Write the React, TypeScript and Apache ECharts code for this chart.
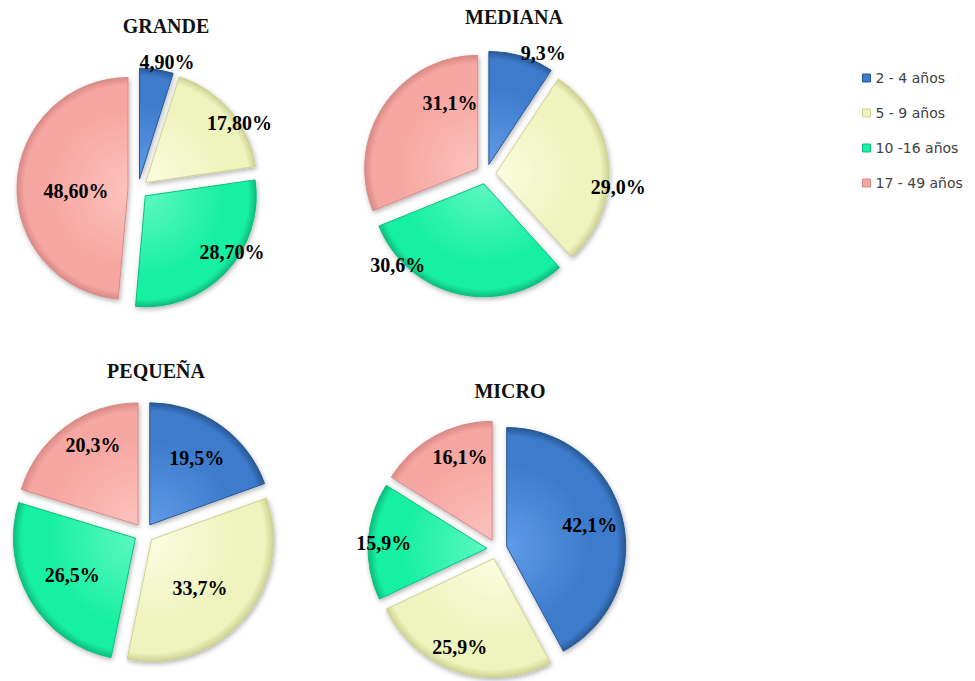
import React, { useEffect, useRef } from 'react';
import * as echarts from 'echarts';

// ---- data ----
const categories = ['2 - 4 años', '5 - 9 años', '10 -16 años', '17 - 49 años'];
const grandeValues = [4.9, 17.8, 28.7, 48.6];
const medianaValues = [9.3, 29.0, 30.6, 31.1];
const pequenaValues = [19.5, 33.7, 26.5, 20.3];
const microValues = [42.1, 25.9, 15.9, 16.1];
const pieTitles = ['GRANDE', 'MEDIANA', 'PEQUEÑA', 'MICRO'];
const pieDecimals = [2, 1, 1, 1];

// ---- layout / style ----
const pieValues = [grandeValues, medianaValues, pequenaValues, microValues];
const pieCenters = [[138, 189], [486, 174], [144, 533], [497, 549]];
const pieRadii = [111, 113, 122, 119];
const titlePos = [[166, 26], [514, 17], [156, 371], [510, 391]];
// [radius fraction, angle delta from slice mid-angle in degrees]
const labelPolar = [
  [[1.08, 4.4], [1.0, 8.1], [0.93, -10.5], [0.47, -5.4]],
  [[1.1, 9.2], [1.09, 10.8], [1.05, 33.5], [0.63, 33]],
  [[0.67, 0], [0.56, 4], [0.6, 0.6], [0.75, 7]],
  [[0.72, 0], [0.8, 2.8], [0.87, -0.4], [0.75, 7.9]],
];
const explode = 10;
const baseColors = ['#3d7bcc', '#eff3bd', '#19f0a3', '#f7a7a2'];
const lightColors = ['#5f9be6', '#fbfde0', '#5cf8c2', '#fcc2be'];
const edgeColors = ['#285894', '#cdd293', '#0cbd7f', '#d98a86'];

const fmt = (v: number, d: number) => v.toFixed(d).replace('.', ',') + '%';

export default function App() {
  const ref = useRef<HTMLDivElement>(null);
  useEffect(() => {
    if (!ref.current) return;
    const chart = echarts.init(ref.current, undefined, { renderer: 'svg' });
    const toRad = (deg: number) => (deg * Math.PI) / 180;

    const labelTexts: any[] = [];

    const series = pieValues.map((vals, k) => {
      const [cx, cy] = pieCenters[k];
      const R = pieRadii[k];
      const total = vals.reduce((a, b) => a + b, 0);
      let acc = 0;
      vals.forEach((v, i) => {
        const mid = ((acc + v / 2) / total) * 360;
        acc += v;
        const [f, da] = labelPolar[k][i];
        const ox = cx + explode * Math.sin(toRad(mid));
        const oy = cy - explode * Math.cos(toRad(mid));
        const a = toRad(mid + da);
        labelTexts.push({
          type: 'text',
          x: ox + f * R * Math.sin(a),
          y: oy - f * R * Math.cos(a),
          z: 100,
          style: {
            text: fmt(v, pieDecimals[k]),
            align: 'center',
            verticalAlign: 'middle',
            textAlign: 'center',
            textVerticalAlign: 'middle',
            fontFamily: 'Liberation Serif',
            fontWeight: 'bold',
            fontSize: 20,
            fill: '#000',
          },
        });
      });
      return {
        type: 'pie',
        name: pieTitles[k],
        center: [cx, cy],
        radius: R,
        startAngle: 90,
        clockwise: true,
        selectedMode: 'multiple',
        selectedOffset: explode,
        avoidLabelOverlap: false,
        emphasis: { disabled: true, scale: false },
        label: { show: false },
        labelLine: { show: false },
        data: vals.map((v, i) => {
          const style = {
            color: {
              type: 'radial',
              x: cx,
              y: cy,
              r: R,
              global: true,
              colorStops: [
                { offset: 0, color: lightColors[i] },
                { offset: 0.7, color: baseColors[i] },
                { offset: 0.93, color: baseColors[i] },
                { offset: 1, color: edgeColors[i] },
              ],
            },
            borderColor: edgeColors[i],
            borderWidth: 1,
            shadowBlur: 5,
            shadowOffsetX: 1,
            shadowOffsetY: 2,
            shadowColor: 'rgba(0,0,0,0.3)',
          };
          return {
            name: categories[i],
            value: v,
            selected: true,
            itemStyle: style,
            select: { itemStyle: style },
          };
        }),
      };
    });

    const titleTexts = pieTitles.map((t, k) => ({
      type: 'text',
      x: titlePos[k][0],
      y: titlePos[k][1],
      style: {
        text: t,
        align: 'center',
        verticalAlign: 'middle',
        textAlign: 'center',
        textVerticalAlign: 'middle',
        fontFamily: 'Liberation Serif',
        fontWeight: 'bold',
        fontSize: 20,
        fill: '#111',
      },
    }));

    chart.setOption({
      animation: false,
      backgroundColor: '#ffffff',
      legend: {
        orient: 'vertical',
        left: 857,
        top: 66,
        itemWidth: 8,
        itemHeight: 8,
        itemGap: 21,
        icon: 'rect',
        selectedMode: false,
        textStyle: {
          fontFamily: 'DejaVu Sans',
          fontSize: 14,
          lineHeight: 14,
          color: '#404040',
        },
        data: categories.map((c, i) => ({
          name: c,
          itemStyle: { color: baseColors[i], borderColor: edgeColors[i], borderWidth: 1 },
        })),
      },
      graphic: [...titleTexts, ...labelTexts],
      series,
    });
    return () => chart.dispose();
  }, []);
  return (
    <div
      ref={ref}
      style={{ position: 'absolute', left: 0, top: 0, width: 975, height: 681, background: '#fff' }}
    />
  );
}
